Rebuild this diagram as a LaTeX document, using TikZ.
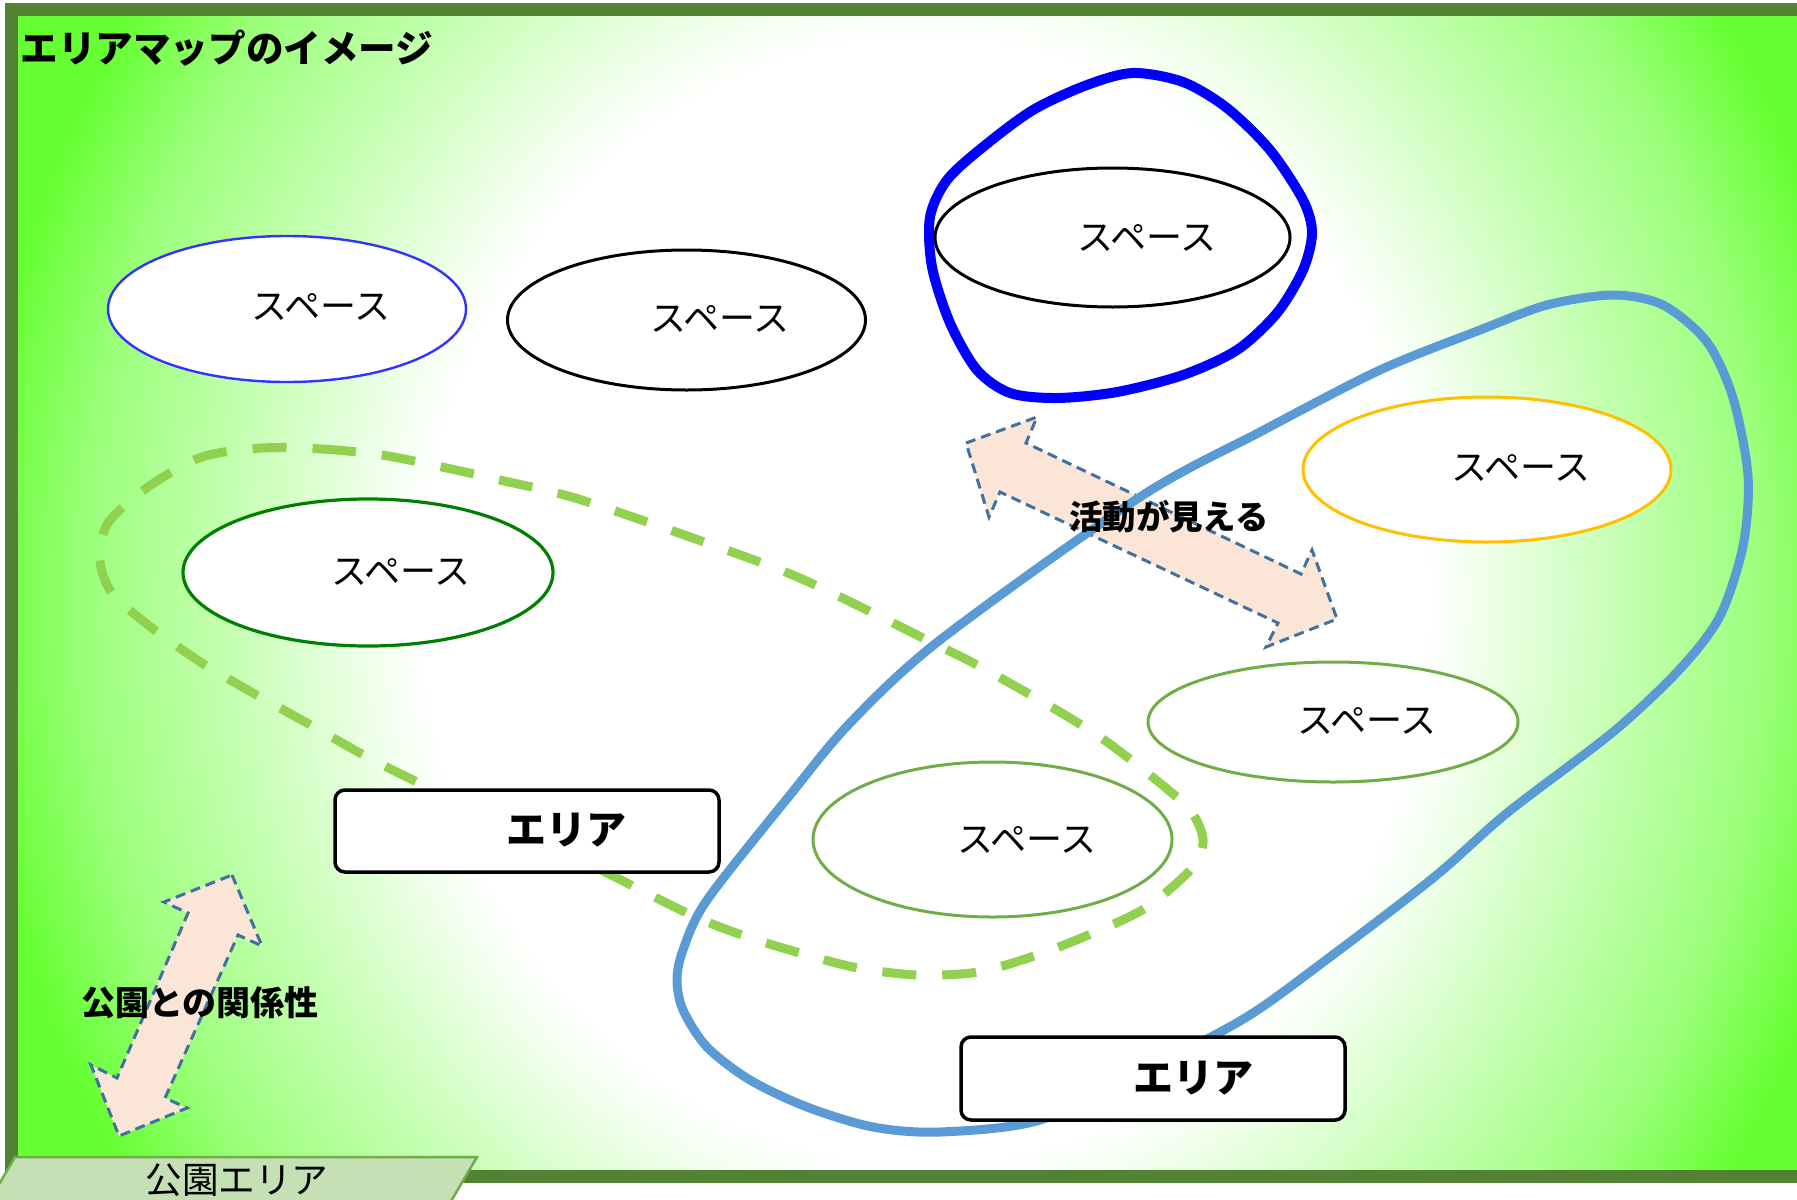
\documentclass[tikz,border=0pt]{standalone}
\usepackage{fontspec}
\newfontfamily\jp{Noto Sans CJK JP}
\usetikzlibrary{shapes.geometric}
\definecolor{frameg}{HTML}{548235}
\definecolor{bgg}{HTML}{66FF33}
\definecolor{blobc}{HTML}{0000FF}
\definecolor{bigc}{HTML}{5B9BD5}
\definecolor{loopc}{HTML}{92D050}
\definecolor{arrfill}{HTML}{FBE5D6}
\definecolor{arrline}{HTML}{41719C}
\definecolor{tabfill}{HTML}{C5E0B4}
\definecolor{tabline}{HTML}{70AD47}
\definecolor{eblue}{HTML}{3333FF}
\definecolor{eorange}{HTML}{FFC000}
\definecolor{edgreen}{HTML}{008000}
\definecolor{elgreen}{HTML}{70AD47}
\colorlet{gten}{bgg!10!white}
\colorlet{gthirty}{bgg!35!white}
\colorlet{gsixty}{bgg!65!white}
\pgfdeclareradialshading{bgshade}{\pgfpoint{0bp}{0bp}}{color(0bp)=(white); color(11.4bp)=(white); color(12.7bp)=(gten); color(15.5bp)=(gthirty); color(19.1bp)=(gsixty); color(21.6bp)=(bgg); color(50bp)=(bgg)}
\begin{document}
\begin{tikzpicture}[x=0.5pt,y=-0.5pt,
  spc/.style={ellipse, draw=#1, fill=white, inner sep=0pt, line width=1.5pt},
  spctxt/.style={font=\jp\fontsize{18pt}{21pt}\selectfont, inner sep=0pt},
  boxst/.style={draw=black, fill=white, rounded corners=5pt, line width=1.75pt, minimum width=192pt, minimum height=41pt, inner sep=0pt},
  boxtxt/.style={font=\jp\bfseries\fontsize{20pt}{24pt}\selectfont, inner sep=0pt},
  arr/.style={fill=arrfill, draw=arrline, line width=1.5pt, dash pattern=on 5pt off 3pt, line join=miter},
  arrtxt/.style={font=\jp\bfseries\fontsize{16.7pt}{20pt}\selectfont, inner sep=0pt}]
\useasboundingbox (0,0) rectangle (1797,1199);
\clip (0,0) rectangle (1797,1199);
\fill[white] (0,0) rectangle (1797,1199);
% background gradient
\begin{scope}
  \clip (11,9.5) rectangle (1830,1176.5);
  \shade[shading=bgshade] (925,600) ellipse [x radius=550pt, y radius=615pt];
\end{scope}
\draw[frameg, line width=6.5pt] (11,9.5) rectangle (1830,1176.5);

% title
\node[font=\jp\bfseries\fontsize{18.8pt}{22pt}\selectfont, inner sep=0pt] (title) at (227,48) {エリアマップのイメージ};

% spaces (ellipses)
\node[spc=eblue, line width=1.2pt, minimum width=179pt, minimum height=73pt] (s1) at (287,309) {};
\node[spc=black, minimum width=179pt, minimum height=70pt] (s2) at (686.5,320) {};
\node[spc=black, minimum width=177.5pt, minimum height=69.5pt] (s3) at (1112.5,237.5) {};
\node[spc=eorange, minimum width=184pt, minimum height=72.5pt] (s4) at (1487,469.5) {};
\node[spc=edgreen, line width=1.6pt, minimum width=185pt, minimum height=73.5pt] (s5) at (368,572.5) {};
\node[spc=elgreen, minimum width=185pt, minimum height=60pt] (s6) at (1333,722) {};
\node[spc=elgreen, minimum width=179.5pt, minimum height=77.5pt] (s7) at (992.5,839.5) {};

% blue blob around s3
\draw[blobc, line width=5pt] plot[smooth cycle] coordinates {(1133,73) (1183,82) (1227,108) (1270,150) (1303,200) (1312,233) (1303,270) (1277,313) (1237,350) (1183,375) (1117,392) (1057,398) (1010,393) (977,370) (950,323) (932,267) (930,217) (947,180) (983,147) (1033,110) (1087,85)};

% double arrows
\draw[arr] (966,443) -- (1037,417) -- (1026,443) -- (1301,574) -- (1312,550) -- (1337,619) -- (1266,647) -- (1278,623) -- (1000,492) -- (989,517) -- cycle;
\draw[arr] (232,875) -- (262,946) -- (238,935) -- (165,1098) -- (187,1108) -- (119,1136) -- (91,1065) -- (117,1078) -- (188,913) -- (164,902) -- cycle;

% big blue area outline
\draw[bigc, line width=4.5pt] plot[smooth cycle] coordinates {(1380,370) (1480,330) (1547,305) (1613,295) (1663,305) (1707,342) (1733,398) (1748,476) (1743,546) (1720,616) (1680,669) (1613,732) (1507,813) (1433,878) (1318,966) (1245,1018) (1150,1068) (1040,1120) (940,1132) (873,1127) (807,1107) (750,1080) (707,1047) (683,1010) (677,980) (683,950) (707,900) (790,795) (850,723) (940,640) (1140,497) (1260,432)};

% green dashed area outline
\draw[loopc, line width=4.5pt, dash pattern=on 17pt off 13pt] plot[smooth cycle] coordinates {(262,448) (322,449) (382,455) (442,467) (500,480) (575,498) (690,537) (802,579) (937,645) (977,665) (1043,702) (1100,737) (1150,775) (1190,810) (1203,840) (1193,867) (1147,907) (1093,933) (1037,955) (978,972) (918,975) (858,968) (800,953) (742,935) (687,913) (573,856) (413,780) (360,753) (307,723) (253,693) (202,663) (152,628) (112,593) (100,560) (108,523) (148,487) (202,457)};

% area boxes
\node[boxst] (a1) at (527,831) {};
\node[boxst, minimum height=41.5pt] (a2) at (1153,1078.5) {};
\node[boxtxt] (a1t) at (566,830) {エリア};
\node[boxtxt] (a2t) at (1193,1078) {エリア};

% space labels
\node[spctxt] (s1t) at (321,307) {スペース};
\node[spctxt] (s2t) at (720,319) {スペース};
\node[spctxt] (s3t) at (1147,238) {スペース};
\node[spctxt] (s4t) at (1521,468) {スペース};
\node[spctxt] (s5t) at (401,572) {スペース};
\node[spctxt] (s6t) at (1367,721) {スペース};
\node[spctxt] (s7t) at (1027,840) {スペース};

% arrow labels
\node[arrtxt] (k1) at (1169,517) {活動が見える};
\node[arrtxt, font=\jp\bfseries\fontsize{17pt}{20pt}\selectfont] (k2) at (200,1003) {公園との関係性};

% park tab
\draw[tabline, fill=tabfill, line width=1.25pt] (15,1157) -- (477,1157) -- (450,1203) -- (-12,1203) -- cycle;
\node[font=\jp\fontsize{18.3pt}{22pt}\selectfont, inner sep=0pt] (park) at (237,1180) {公園エリア};
\end{tikzpicture}
\end{document}
